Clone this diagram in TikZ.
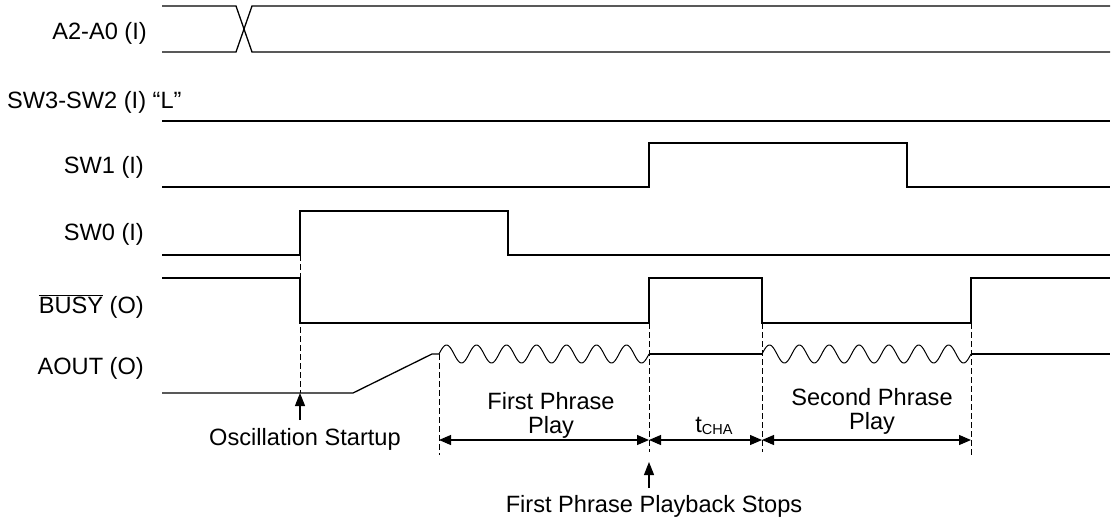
\documentclass[tikz,border=0pt]{standalone}
\usepackage{fontspec}
\setmainfont{Liberation Sans}
\usetikzlibrary{arrows.meta}
\begin{document}
\begin{tikzpicture}[x=1pt,y=-1pt,
  sig/.style={line width=1.3pt,line join=miter},
  guide/.style={line width=1pt,dash pattern=on 6pt off 3pt},
  lbl/.style={inner sep=0pt,font=\fontsize{23.6}{28}\selectfont},
  dim/.style={line width=1.1pt,{Triangle[length=12pt,width=10pt]}-{Triangle[length=12pt,width=10pt]}},
  uparr/.style={line width=1.1pt,-{Triangle[length=13pt,width=10pt]}}]
\useasboundingbox (0,0) rectangle (1115,519);
% signal names
\node[lbl,anchor=base east] (nA) at (147,40) {A2-A0 (I)};
\node[lbl,anchor=base west] (nSW3) at (7,108) {SW3-SW2 (I) “L”};
\node[lbl,anchor=base east] (nSW1) at (144,173) {SW1 (I)};
\node[lbl,anchor=base east] (nSW0) at (144,240) {SW0 (I)};
\node[lbl,anchor=base east] (nBUSY) at (144,313) {$\overline{\hbox{BUSY}}$ (O)};
\node[lbl,anchor=base east] (nAOUT) at (144,374) {AOUT (O)};
% A2-A0
\draw[sig] (162,6) -- (236,6) -- (252,52) -- (1110,52);
\draw[sig] (162,52) -- (236,52) -- (252,6) -- (1110,6);
% SW3-SW2
\draw[sig] (162,121) -- (1110,121);
% SW1
\draw[sig] (162,187) -- (649,187) -- (649,143) -- (907,143) -- (907,187) -- (1110,187);
% SW0
\draw[sig] (162,255) -- (300,255) -- (300,211) -- (508,211) -- (508,255) -- (1110,255);
% BUSY
\draw[sig] (162,278) -- (300,278) -- (300,323) -- (649,323) -- (649,278) -- (762,278) -- (762,323) -- (971,323) -- (971,278) -- (1110,278);
% AOUT
\draw[sig] (162,393) -- (353,393) -- (432,354) -- (439,354);
\draw[line width=1pt] plot[domain=0:210,samples=211,smooth] ({439+\x},{354-9*sin(12*\x)});
\draw[sig] (649,354) -- (762,354);
\draw[line width=1pt] plot[domain=0:209,samples=210,smooth] ({762+\x},{354-9*sin(12.0574*\x)});
\draw[sig] (971,354) -- (1110,354);
% guide lines
\coordinate (g1t) at (300,255); \coordinate (g1b) at (300,393);
\coordinate (g2t) at (439,354); \coordinate (g2b) at (439,455);
\coordinate (g3t) at (649,323); \coordinate (g3b) at (649,452);
\coordinate (g4t) at (762,323); \coordinate (g4b) at (762,452);
\coordinate (g5t) at (971,323); \coordinate (g5b) at (971,455);
\draw[guide] (g1t) -- (g1b);
\draw[guide] (g2t) -- (g2b);
\draw[guide] (g3t) -- (g3b);
\draw[guide] (g4t) -- (g4b);
\draw[guide] (g5t) -- (g5b);
% dimension arrows
\coordinate (d1) at (439,440); \coordinate (d2) at (649,440);
\coordinate (d3) at (762,440); \coordinate (d4) at (971,440);
\draw[dim] (d1) -- (d2);
\draw[dim] (d2) -- (d3);
\draw[dim] (d3) -- (d4);
\node[lbl,anchor=base] (tFirst) at (551,409) {First Phrase};
\node[lbl,anchor=base] (tFirstP) at (551,433) {Play};
\node[lbl,anchor=base] (tCHA) at (714,432) {t\raisebox{-2pt}{\fontsize{14.5}{16}\selectfont CHA}};
\node[lbl,anchor=base] (tSecond) at (872,405) {Second Phrase};
\node[lbl,anchor=base] (tSecondP) at (872,429) {Play};
% up arrows
\coordinate (u1s) at (300,420); \coordinate (u1e) at (300,393);
\coordinate (u2s) at (649,488); \coordinate (u2e) at (649,462);
\draw[uparr] (u1s) -- (u1e);
\draw[uparr] (u2s) -- (u2e);
\node[lbl,anchor=base] (tOsc) at (305,445) {Oscillation Startup};
\node[lbl,anchor=base] (tStops) at (654,512) {First Phrase Playback Stops};
\end{tikzpicture}
\end{document}
